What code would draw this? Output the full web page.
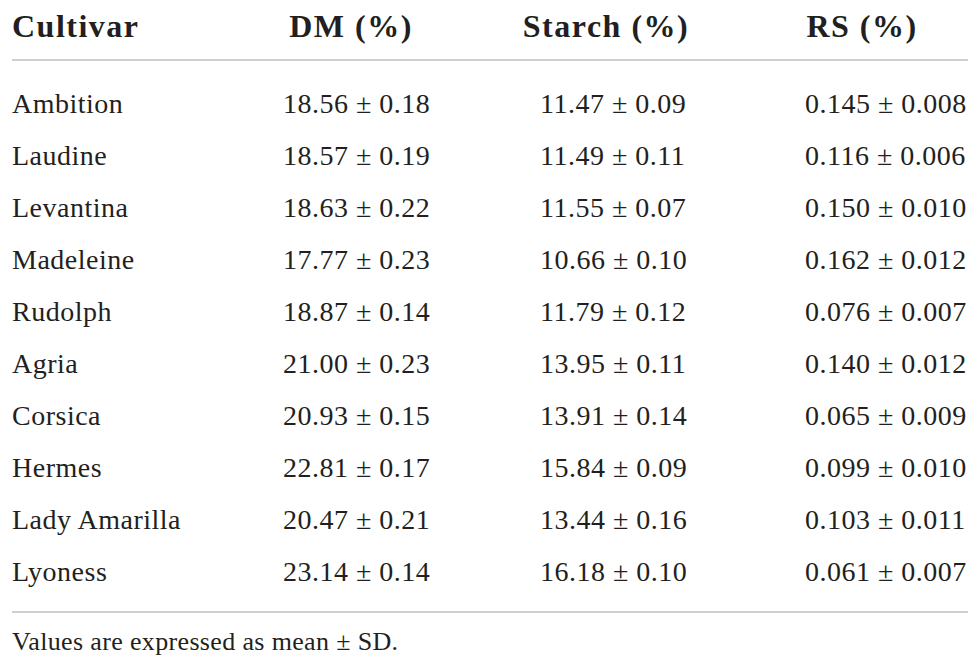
<!DOCTYPE html>
<html>
<head>
<meta charset="utf-8">
<script src="https://cdn.jsdelivr.net/npm/d3@7"></script>
<style>
  body { margin: 0; background: #fff; }
  text { font-family: 'Liberation Serif', 'DejaVu Serif', serif; fill: #231f20; }
</style>
</head>
<body>
<div id="table"></div>
<script>
const cultivars = ['Ambition', 'Laudine', 'Levantina', 'Madeleine', 'Rudolph', 'Agria', 'Corsica', 'Hermes', 'Lady Amarilla', 'Lyoness']

const dmMean = [18.56, 18.57, 18.63, 17.77, 18.87, 21.0, 20.93, 22.81, 20.47, 23.14]
const dmSd = [0.18, 0.19, 0.22, 0.23, 0.14, 0.23, 0.15, 0.17, 0.21, 0.14]

const starchMean = [11.47, 11.49, 11.55, 10.66, 11.79, 13.95, 13.91, 15.84, 13.44, 16.18]
const starchSd = [0.09, 0.11, 0.07, 0.1, 0.12, 0.11, 0.14, 0.09, 0.16, 0.1]

const rsMean = [0.145, 0.116, 0.15, 0.162, 0.076, 0.14, 0.065, 0.099, 0.103, 0.061]
const rsSd = [0.008, 0.006, 0.01, 0.012, 0.007, 0.012, 0.009, 0.01, 0.011, 0.007]

const headers = ['Cultivar', 'DM (%)', 'Starch (%)', 'RS (%)']
const footnote = 'Values are expressed as mean \u00b1 SD.'

const width = 979
const height = 671

const svg = d3
  .select('#table')
  .append('svg')
  .attr('width', width)
  .attr('height', height)

// row baselines
const yScale = d3
  .scalePoint()
  .domain(cultivars)
  .range([113, 581])

const f2 = d3.format('.2f')
const f3 = d3.format('.3f')

const rows = cultivars.map((c, i) => ({
  cultivar: c,
  dm: f2(dmMean[i]) + ' \u00b1 ' + f2(dmSd[i]),
  starch: f2(starchMean[i]) + ' \u00b1 ' + f2(starchSd[i]),
  rs: f3(rsMean[i]) + ' \u00b1 ' + f3(rsSd[i])
}))

// columns: where values start, where headers are centred
const columns = [
  { key: 'cultivar', x: 12, headX: 12, anchor: 'start' },
  { key: 'dm', x: 283, headX: 351, anchor: 'middle' },
  { key: 'starch', x: 540, headX: 606, anchor: 'middle' },
  { key: 'rs', x: 805, headX: 862, anchor: 'middle' }
]

// header

svg
  .selectAll('.header')
  .data(headers)
  .enter()
  .append('text')
  .attr('class', 'header')
  .attr('x', (d, i) => columns[i].headX)
  .attr('y', 37)
  .attr('text-anchor', (d, i) => columns[i].anchor)
  .attr('font-size', 32)
  .attr('letter-spacing', 1.5)
  .attr('font-weight', 'bold')
  .text(d => d)

// rules

svg
  .selectAll('.rule')
  .data([60, 612])
  .enter()
  .append('line')
  .attr('class', 'rule')
  .attr('x1', 12)
  .attr('x2', 968)
  .attr('y1', d => d)
  .attr('y2', d => d)
  .attr('stroke', '#cfcfcf')
  .attr('stroke-width', 2)

// body

const row = svg
  .selectAll('.row')
  .data(rows)
  .enter()
  .append('g')
  .attr('class', 'row')
  .attr('transform', d => 'translate(0,' + yScale(d.cultivar) + ')')

columns.forEach(col => {
  row
    .append('text')
    .attr('x', col.x)
    .attr('y', 0)
    .attr('font-size', 28)
    .attr('letter-spacing', 0.5)
    .text(d => d[col.key])
})

// footnote

svg
  .append('text')
  .attr('x', 12)
  .attr('y', 650)
  .attr('font-size', 26)
  .attr('letter-spacing', 0.35)
  .text(footnote)
</script>
</body>
</html>
